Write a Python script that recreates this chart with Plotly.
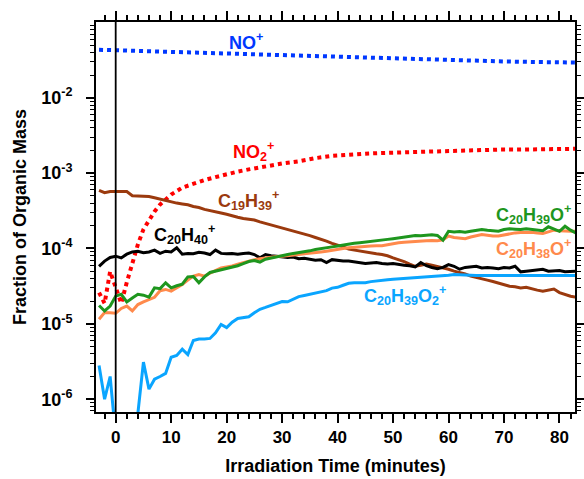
import numpy as np
import plotly.graph_objects as go

# ---------------- data ----------------
t_min = list(range(-3, 84))  # irradiation time grid (minutes), 1-min steps

# C19H39+ (units of 1e-4)
c19h39 = [5.9, 5.5, 5.7, 5.7, 5.7, 5.7, 5.0, 5.0, 4.9, 4.9, 4.7, 4.5, 4.4, 4.2, 4.0, 3.9, 3.8, 3.6, 3.5, 3.3,
          3.2, 3.1, 2.95, 2.85, 2.75, 2.6, 2.5, 2.45, 2.38, 2.25, 2.15, 2.08, 1.95, 1.86, 1.78, 1.7, 1.64, 1.55,
          1.48, 1.40, 1.33, 1.25, 1.17, 1.12, 1.05, 0.98, 0.95, 0.92, 0.89, 0.87, 0.85, 0.83, 0.80, 0.75, 0.71,
          0.67, 0.62, 0.58, 0.60, 0.62, 0.60, 0.58, 0.56, 0.53, 0.50, 0.48, 0.46, 0.43, 0.41, 0.40, 0.38, 0.365,
          0.35, 0.33, 0.315, 0.31, 0.30, 0.305, 0.29, 0.28, 0.27, 0.28, 0.29, 0.26, 0.245, 0.232, 0.225]

# C20H40+ (units of 1e-5)
c20h40 = [5.8, 6.8, 7.6, 7.9, 7.5, 8.4, 9.0, 9.2, 8.8, 9.0, 9.5, 8.6, 9.2, 9.0, 10.2, 8.4, 8.6, 8.5, 8.9, 8.7,
          8.3, 9.5, 8.6, 8.5, 8.6, 8.4, 8.6, 8.7, 8.3, 7.5, 8.3, 8.0, 7.9, 7.8, 7.6, 7.7, 7.3, 7.4, 7.2, 7.0,
          7.1, 6.5, 7.1, 6.9, 6.8, 6.8, 6.6, 6.5, 6.3, 6.4, 6.5, 6.3, 6.2, 6.3, 6.1, 6.0, 5.9, 5.7, 6.5, 5.9,
          5.6, 5.4, 5.6, 6.1, 5.8, 5.3, 5.6, 5.7, 5.8, 5.5, 5.6, 5.5, 5.4, 5.6, 5.5, 5.8, 4.9, 5.0, 5.1, 5.2,
          5.3, 5.0, 5.0, 5.1, 4.9, 5.0, 5.0]

# C20H39O+ (units of 1e-5)
c20h39o = [1.75, 1.48, 1.72, 2.33, 2.46, 1.95, 2.2, 2.46, 2.4, 2.26, 3.0, 2.93, 3.5, 3.0, 3.2, 3.35, 4.2, 4.25,
           3.5, 4.2, 4.8, 5.0, 5.3, 5.4, 5.7, 5.9, 6.3, 6.7, 6.9, 6.6, 7.2, 7.5, 7.8, 8.0, 8.3, 8.6, 8.8, 9.0,
           9.3, 9.7, 9.9, 10.2, 10.5, 10.8, 11.1, 11.6, 11.7, 11.9, 12.1, 12.3, 12.6, 12.9, 13.2, 13.5, 13.9,
           14.2, 14.5, 14.9, 14.7, 14.9, 15.2, 14.9, 12.9, 16.9, 16.6, 16.8, 16.4, 16.9, 17.5, 17.9, 17.4, 17.0,
           16.9, 17.8, 18.2, 18.0, 17.8, 18.2, 18.0, 17.5, 17.2, 19.4, 18.0, 16.9, 19.7, 17.5, 16.0]

# C20H38O+ (units of 1e-5)
c20h38o = [1.15, 1.41, 1.40, 1.38, 1.6, 1.72, 1.48, 1.8, 1.95, 2.11, 2.25, 2.75, 2.86, 2.72, 3.0, 3.33, 3.8, 4.3,
           4.5, 4.3, 4.7, 5.1, 5.5, 5.7, 5.85, 6.2, 6.5, 6.9, 7.1, 7.3, 7.5, 7.6, 7.8, 7.9, 8.0, 8.2, 8.3, 8.5,
           8.6, 8.8, 9.0, 9.2, 9.5, 9.8, 10.0, 10.2, 10.4, 10.6, 10.7, 10.8, 10.9, 10.9, 11.2, 11.6, 11.9, 12.1,
           12.3, 12.5, 12.6, 12.7, 12.8, 12.7, 13.0, 14.6, 14.0, 13.6, 13.5, 14.2, 14.8, 15.3, 15.0, 14.6, 14.6,
           15.2, 15.6, 16.1, 16.3, 16.4, 16.4, 16.0, 15.8, 16.6, 17.5, 17.2, 16.9, 16.9, 16.9]

# C20H39O2+ (units of 1e-6); None = below detection (not plottable on log axis)
c20h39o2 = [2.8, 1.0, 2.0, 0.32, None, None, None, 0.65, 3.1, 1.36, 1.84, 2.0, 2.2, 3.6, 3.8, 4.6, 3.9, 6.0,
            6.3, 6.3, 6.4, 7.6, 9.8, 8.9, 10.5, 11.8, 12.2, 12.4, 14.0, 15.6, 16.5, 17.5, 19.0, 19.8, 19.6, 21.5,
            23.0, 23.8, 24.6, 26.0, 26.8, 27.6, 29.8, 30.5, 32.5, 34.5, 35.2, 35.0, 35.2, 36.3, 37.2, 38.0, 38.5,
            39.0, 39.5, 40.0, 40.4, 40.8, 41.0, 41.2, 41.8, 42.5, 43.0, 44.0, 45.0, 44.5, 44.2, 44.0, 43.9, 43.8,
            44.1, 43.9, 43.7, 43.9, 44.0, 43.8, 43.9, 44.0, 43.9, 43.8, 43.9, 44.0, 43.9, 43.8, 43.9, 43.9, 43.9]

# NO+ (dotted)
t_no = [-3, 0, 3, 6, 10, 14, 18, 22, 26, 30, 35, 40, 45, 50, 55, 60, 65, 70, 76, 83]
no_plus = [0.0433, 0.0424, 0.0420, 0.0413, 0.0406, 0.0398, 0.0390, 0.0377, 0.0370, 0.0363, 0.0354, 0.0346,
           0.0336, 0.0327, 0.0319, 0.0312, 0.0307, 0.0303, 0.0298, 0.0293]

# NO2+ (dotted)
t_no2 = [-3, -2, -1, 0, 1, 2, 3, 4, 5, 6, 7, 8, 9, 10, 12, 14, 16, 18, 20, 22, 24, 27, 30, 33, 36, 39, 42, 45,
         48, 51, 54, 57, 60, 63, 66, 69, 72, 75, 78, 81, 83]
no2_plus = [2.6e-5, 1.87e-5, 4.95e-5, 3.0e-5, 1.87e-5, 3.55e-5, 6.7e-5, 1.13e-4, 1.79e-4, 2.42e-4, 3.09e-4,
            3.83e-4, 4.46e-4, 5.19e-4, 6.42e-4, 7.26e-4, 8.07e-4, 8.85e-4, 9.7e-4, 1.047e-3, 1.12e-3, 1.24e-3,
            1.34e-3, 1.43e-3, 1.58e-3, 1.69e-3, 1.76e-3, 1.81e-3, 1.85e-3, 1.88e-3, 1.91e-3, 1.93e-3, 1.96e-3,
            2.0e-3, 2.05e-3, 2.05e-3, 2.05e-3, 2.07e-3, 2.09e-3, 2.09e-3, 2.10e-3]

y_tick_vals = [1e-6, 1e-5, 1e-4, 1e-3, 1e-2]
y_tick_text = ["10<sup>-6</sup>", "10<sup>-5</sup>", "10<sup>-4</sup>", "10<sup>-3</sup>", "10<sup>-2</sup>"]
x_tick_vals = [0, 10, 20, 30, 40, 50, 60, 70, 80]

# ---------------- figure ----------------
def scale(vals, f):
    return [None if v is None else v * f for v in vals]

BROWN = "#9b3a0e"
GREEN = "#1e961e"
ORANGE = "#ff8a4c"
LBLUE = "#0aa5ff"
BLUE = "#0038ff"
RED = "#ff0000"

fig = go.Figure()
fig.add_trace(go.Scatter(x=t_no, y=no_plus, mode="lines", line=dict(color=BLUE, width=4, dash="4px,4px")))
fig.add_trace(go.Scatter(x=t_no2, y=no2_plus, mode="lines", line=dict(color=RED, width=4, dash="4px,4px")))
fig.add_trace(go.Scatter(x=t_min, y=scale(c19h39, 1e-4), mode="lines", line=dict(color=BROWN, width=3)))
fig.add_trace(go.Scatter(x=t_min, y=scale(c20h40, 1e-5), mode="lines", line=dict(color="black", width=3)))
fig.add_trace(go.Scatter(x=t_min, y=scale(c20h38o, 1e-5), mode="lines", line=dict(color=ORANGE, width=3)))
fig.add_trace(go.Scatter(x=t_min, y=scale(c20h39o, 1e-5), mode="lines", line=dict(color=GREEN, width=3)))
fig.add_trace(go.Scatter(x=t_min, y=scale(c20h39o2, 1e-6), mode="lines", line=dict(color=LBLUE, width=3),
                         connectgaps=False))

FONT = "Liberation Sans, Arial, sans-serif"
L, R, T, B = 96, 575, 22, 412
W, H = R - L, B - T

def px(x, y):
    return (x - L) / W, (B - y) / H

labels = [
    ("NO<sup>+</sup>", 227, 41, BLUE),
    ("NO<sub>2</sub><sup>+</sup>", 231, 151, RED),
    ("C<sub>19</sub>H<sub>39</sub><sup>+</sup>", 216, 200, BROWN),
    ("C<sub>20</sub>H<sub>40</sub><sup>+</sup>", 152, 234, "black"),
    ("C<sub>20</sub>H<sub>39</sub>O<sup>+</sup>", 494, 214, GREEN),
    ("C<sub>20</sub>H<sub>38</sub>O<sup>+</sup>", 494, 249, ORANGE),
    ("C<sub>20</sub>H<sub>39</sub>O<sub>2</sub><sup>+</sup>", 362, 295, LBLUE),
]
for txt, lx, ly, col in labels:
    ax, ay = px(lx, ly)
    fig.add_annotation(text=txt, x=ax, y=ay, xref="paper", yref="paper", xanchor="left", yanchor="middle",
                       showarrow=False, font=dict(family=FONT, size=18, color=col, weight="bold"))

fig.add_shape(type="line", x0=0, x1=0, y0=0, y1=1, xref="x", yref="paper",
              line=dict(color="black", width=1.8))

fig.update_layout(
    width=584, height=479,
    margin=dict(l=L, r=584 - R, t=T, b=479 - B, autoexpand=False),
    paper_bgcolor="white", plot_bgcolor="white",
    showlegend=False,
    font=dict(family=FONT, color="black"),
)
fig.update_xaxes(
    range=[-3.55, 82.8], tickmode="array", tickvals=x_tick_vals, automargin=False,
    ticks="outside", ticklen=9, tickwidth=1.5, tickcolor="black",
    showline=True, linewidth=1.8, linecolor="black", mirror="ticks",
    showgrid=False, zeroline=False,
    tickfont=dict(family=FONT, size=17, weight="bold"),
    minor=dict(ticks="outside", ticklen=5, tickwidth=1.5, tickcolor="black", dtick=2, tick0=0, showgrid=False),
    title=dict(text="Irradiation Time (minutes)", font=dict(family=FONT, size=18, weight="bold"), standoff=13),
)
minor_y = [d * 10.0 ** e for e in range(-7, 0) for d in range(2, 10)]
fig.update_yaxes(
    type="log", range=[-6.17, -0.995], tickmode="array", tickvals=y_tick_vals, ticktext=y_tick_text,
    automargin=False,
    ticks="outside", ticklen=8, tickwidth=1.5, tickcolor="black",
    showline=True, linewidth=1.8, linecolor="black", mirror="ticks",
    showgrid=False, zeroline=False, ticklabelstandoff=10,
    tickfont=dict(family=FONT, size=18, weight="bold"),
    minor=dict(ticks="outside", ticklen=4, tickwidth=1.2, tickcolor="black", tickmode="array",
               tickvals=minor_y, showgrid=False),
    title=dict(text="Fraction of Organic Mass", font=dict(family=FONT, size=18, weight="bold"), standoff=10),
)

fig.write_html("out.html", post_script="document.body.style.margin='0px';",
               config={"displayModeBar": False})
